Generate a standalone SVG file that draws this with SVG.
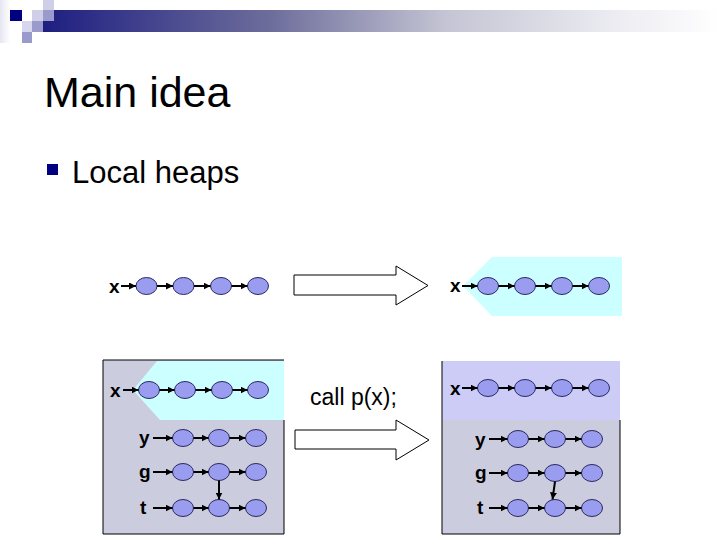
<svg xmlns="http://www.w3.org/2000/svg" width="720" height="540" viewBox="0 0 720 540">
<defs>
<linearGradient id="bar" x1="0" y1="0" x2="1" y2="0">
<stop offset="0" stop-color="#1a1a80"/>
<stop offset="0.35" stop-color="#6e6e9c"/>
<stop offset="0.6" stop-color="#c4c4d4"/>
<stop offset="0.85" stop-color="#ececf2"/>
<stop offset="1" stop-color="#ffffff"/>
</linearGradient>
<linearGradient id="side" x1="0" y1="0" x2="1" y2="0">
<stop offset="0" stop-color="#e6e6f2"/>
<stop offset="1" stop-color="#ffffff"/>
</linearGradient>
<marker id="ah" viewBox="0 0 10 10" refX="10" refY="5" markerWidth="7" markerHeight="7" markerUnits="userSpaceOnUse" orient="auto">
<path d="M0,0 L10,5 L0,10 z" fill="#000"/>
</marker>
</defs>
<style>
.lbl{font-family:"Liberation Sans",Arial,sans-serif;font-size:19px;font-weight:bold;fill:#000;}
.node ellipse{fill:#9a9cf0;stroke:#2a2a60;stroke-width:1;}
.conn line{stroke:#000;stroke-width:2;marker-end:url(#ah);}
.big{fill:#fff;stroke:#000;stroke-width:1;}
</style>
<rect width="720" height="540" fill="#fff"/>
<!-- header -->
<g id="header">
<rect x="0" y="0" width="10" height="43" fill="url(#side)"/>
<rect x="32" y="10" width="688" height="22" fill="url(#bar)"/>
<rect x="10" y="10" width="12" height="11" fill="#000080"/>
<rect x="43" y="0" width="11" height="10" fill="#cfcfe8"/>
<rect x="32" y="10" width="11" height="11" fill="#cfcfe8"/>
<rect x="43" y="10" width="11" height="11" fill="#9a9acc"/>
<rect x="22" y="21" width="10" height="11" fill="#d6d6ec"/>
<rect x="32" y="21" width="11" height="11" fill="#9a9acc"/>
<rect x="22" y="32" width="10" height="11" fill="#9a9acc"/>
</g>
<text x="44" y="107" font-family="Liberation Sans, Arial, sans-serif" font-size="43" fill="#000">Main idea</text>
<rect x="47" y="164" width="11" height="11" fill="#000080"/>
<text x="72" y="183" font-family="Liberation Sans, Arial, sans-serif" font-size="31" fill="#000">Local heaps</text>

<!-- backgrounds -->
<polygon points="492,257 622,257 622,316 492,316 463,286" fill="#ccffff"/>
<rect x="103" y="360" width="181" height="174" fill="#ccccdf"/>
<polygon points="157,361 284,361 284,420 160,420 133,390" fill="#ccffff"/>
<path d="M284,420 V534 H103 V360 H284" fill="none" stroke="#000" stroke-width="1"/>
<rect x="442" y="361" width="178" height="173" fill="#ccccdf"/>
<rect x="442" y="361" width="178" height="59" fill="#ccccf7"/>
<path d="M442,361 V534 H620 V420" fill="none" stroke="#000" stroke-width="1"/>

<!-- big arrows -->
<polygon class="big" points="294,275 396,275 396,266 428,285.5 396,305 396,295 294,295"/>
<polygon class="big" points="295,430 396,430 396,420 429,440 396,460 396,449 295,449"/>
<text x="310" y="405" font-family="Liberation Sans, Arial, sans-serif" font-size="23" fill="#000">call p(x);</text>

<!-- labels -->
<text class="lbl" x="109" y="293">x</text>
<text class="lbl" x="450" y="292">x</text>
<text class="lbl" x="110" y="397">x</text>
<text class="lbl" x="139" y="444">y</text>
<text class="lbl" x="139" y="478">g</text>
<text class="lbl" x="140" y="514">t</text>
<text class="lbl" x="450" y="395">x</text>
<text class="lbl" x="475" y="446">y</text>
<text class="lbl" x="475" y="479">g</text>
<text class="lbl" x="477" y="514">t</text>

<!-- nodes -->
<g id="tl" class="node">
<ellipse cx="146.5" cy="286" rx="10.5" ry="8.5"/>
<ellipse cx="183.5" cy="286" rx="10.5" ry="8.5"/>
<ellipse cx="221" cy="286" rx="10.5" ry="8.5"/>
<ellipse cx="258" cy="286" rx="10.5" ry="8.5"/>
</g>
<g id="tr" class="node">
<ellipse cx="488" cy="286" rx="10.5" ry="8.5"/>
<ellipse cx="525" cy="286" rx="10.5" ry="8.5"/>
<ellipse cx="562" cy="286" rx="10.5" ry="8.5"/>
<ellipse cx="599" cy="286" rx="10.5" ry="8.5"/>
</g>
<g id="lx" class="node">
<ellipse cx="149" cy="390" rx="10.5" ry="8.5"/>
<ellipse cx="185" cy="390" rx="10.5" ry="8.5"/>
<ellipse cx="222" cy="390" rx="10.5" ry="8.5"/>
<ellipse cx="258" cy="390" rx="10.5" ry="8.5"/>
</g>
<g id="ly" class="node">
<ellipse cx="183" cy="438" rx="10.5" ry="8.5"/>
<ellipse cx="219" cy="438" rx="10.5" ry="8.5"/>
<ellipse cx="256" cy="438" rx="10.5" ry="8.5"/>
</g>
<g id="lg" class="node">
<ellipse cx="183" cy="472" rx="10.5" ry="8.5"/>
<ellipse cx="219" cy="472" rx="10.5" ry="8.5"/>
<ellipse cx="256" cy="472" rx="10.5" ry="8.5"/>
</g>
<g id="lt" class="node">
<ellipse cx="183" cy="508" rx="10.5" ry="8.5"/>
<ellipse cx="219" cy="508" rx="10.5" ry="8.5"/>
<ellipse cx="256" cy="508" rx="10.5" ry="8.5"/>
</g>
<g id="rx" class="node">
<ellipse cx="488" cy="388" rx="10.5" ry="8.5"/>
<ellipse cx="525" cy="388" rx="10.5" ry="8.5"/>
<ellipse cx="562" cy="388" rx="10.5" ry="8.5"/>
<ellipse cx="599" cy="388" rx="10.5" ry="8.5"/>
</g>
<g id="ry" class="node">
<ellipse cx="518" cy="439" rx="10.5" ry="8.5"/>
<ellipse cx="555" cy="439" rx="10.5" ry="8.5"/>
<ellipse cx="592" cy="439" rx="10.5" ry="8.5"/>
</g>
<g id="rg" class="node">
<ellipse cx="518" cy="473" rx="10.5" ry="8.5"/>
<ellipse cx="555" cy="473" rx="10.5" ry="8.5"/>
<ellipse cx="592" cy="473" rx="10.5" ry="8.5"/>
</g>
<g id="rt" class="node">
<ellipse cx="518" cy="508" rx="10.5" ry="8.5"/>
<ellipse cx="555" cy="508" rx="10.5" ry="8.5"/>
<ellipse cx="592" cy="508" rx="10.5" ry="8.5"/>
</g>

<!-- connectors -->
<g id="connectors" class="conn">
<line x1="121" y1="286" x2="136" y2="286"/>
<line x1="157" y1="286" x2="173" y2="286"/>
<line x1="194" y1="286" x2="210.5" y2="286"/>
<line x1="231.5" y1="286" x2="247.5" y2="286"/>

<line x1="462" y1="286" x2="477.5" y2="286"/>
<line x1="498.5" y1="286" x2="514.5" y2="286"/>
<line x1="535.5" y1="286" x2="551.5" y2="286"/>
<line x1="572.5" y1="286" x2="588.5" y2="286"/>

<line x1="123" y1="390" x2="138.5" y2="390"/>
<line x1="159.5" y1="390" x2="174.5" y2="390"/>
<line x1="195.5" y1="390" x2="211.5" y2="390"/>
<line x1="232.5" y1="390" x2="247.5" y2="390"/>

<line x1="153" y1="438" x2="172.5" y2="438"/>
<line x1="193.5" y1="438" x2="208.5" y2="438"/>
<line x1="229.5" y1="438" x2="245.5" y2="438"/>
<line x1="153" y1="472" x2="172.5" y2="472"/>
<line x1="193.5" y1="472" x2="208.5" y2="472"/>
<line x1="229.5" y1="472" x2="245.5" y2="472"/>
<line x1="153" y1="508" x2="172.5" y2="508"/>
<line x1="193.5" y1="508" x2="208.5" y2="508"/>
<line x1="229.5" y1="508" x2="245.5" y2="508"/>
<line x1="219" y1="480.5" x2="219" y2="499.5"/>

<line x1="462" y1="388" x2="477.5" y2="388"/>
<line x1="498.5" y1="388" x2="514.5" y2="388"/>
<line x1="535.5" y1="388" x2="551.5" y2="388"/>
<line x1="572.5" y1="388" x2="588.5" y2="388"/>

<line x1="489" y1="439" x2="507.5" y2="439"/>
<line x1="528.5" y1="439" x2="544.5" y2="439"/>
<line x1="565.5" y1="439" x2="581.5" y2="439"/>
<line x1="489" y1="473" x2="507.5" y2="473"/>
<line x1="528.5" y1="473" x2="544.5" y2="473"/>
<line x1="565.5" y1="473" x2="581.5" y2="473"/>
<line x1="489" y1="508" x2="507.5" y2="508"/>
<line x1="528.5" y1="508" x2="544.5" y2="508"/>
<line x1="565.5" y1="508" x2="581.5" y2="508"/>
<line x1="555" y1="481.5" x2="552.5" y2="499.5"/>
</g>
</svg>
